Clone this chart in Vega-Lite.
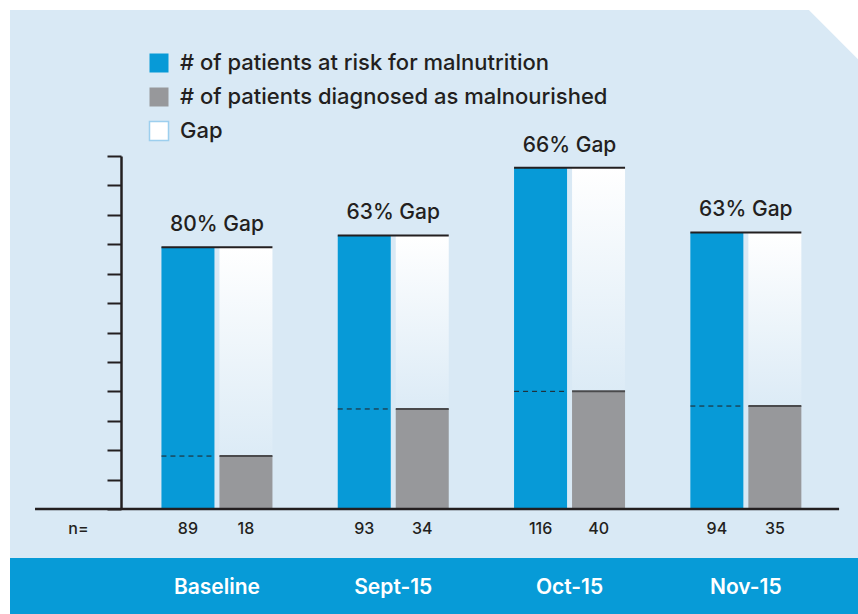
{
  "$schema": "https://vega.github.io/schema/vega-lite/v6.json",
  "width": 848,
  "height": 548,
  "padding": {"left": 10, "top": 10, "right": 0, "bottom": 0},
  "background": "#ffffff",
  "config": {
    "view": {"fill": "#d9e9f5", "stroke": null},
    "axis": {"grid": false},
    "font": "Inter"
  },
  "datasets": {
    "bars": [
      {"month": "Baseline", "series": "# of patients at risk for malnutrition", "n": 89},
      {"month": "Baseline", "series": "# of patients diagnosed as malnourished", "n": 18},
      {"month": "Sept-15", "series": "# of patients at risk for malnutrition", "n": 93},
      {"month": "Sept-15", "series": "# of patients diagnosed as malnourished", "n": 34},
      {"month": "Oct-15", "series": "# of patients at risk for malnutrition", "n": 116},
      {"month": "Oct-15", "series": "# of patients diagnosed as malnourished", "n": 40},
      {"month": "Nov-15", "series": "# of patients at risk for malnutrition", "n": 94},
      {"month": "Nov-15", "series": "# of patients diagnosed as malnourished", "n": 35}
    ],
    "months": [
      {"month": "Baseline", "risk": 89, "diagnosed": 18, "gap": "80% Gap"},
      {"month": "Sept-15", "risk": 93, "diagnosed": 34, "gap": "63% Gap"},
      {"month": "Oct-15", "risk": 116, "diagnosed": 40, "gap": "66% Gap"},
      {"month": "Nov-15", "risk": 94, "diagnosed": 35, "gap": "63% Gap"}
    ]
  },
  "layer": [
    {
      "data": {"name": "months"},
      "transform": [{"filter": "datum.month === 'Baseline'"}],
      "mark": {"type": "rect", "color": "#079bd7"},
      "encoding": {
        "y": {"datum": -16.66, "type": "quantitative"},
        "y2": {"datum": -35.7}
      }
    },
    {
      "data": {"name": "bars"},
      "mark": {"type": "bar"},
      "encoding": {
        "x": {
          "field": "month", "type": "nominal", "sort": null,
          "scale": {"type": "band", "domain": ["Baseline", "Sept-15", "Oct-15", "Nov-15"], "range": [118.8, 824], "paddingInner": 0.3704, "paddingOuter": 0.1852},
          "axis": {"orient": "bottom", "domain": false, "ticks": false, "tickSize": 0, "labelPadding": 29, "labelBaseline": "middle", "labelAngle": 0, "labelColor": "#ffffff", "labelFontSize": 21, "labelFont": "Inter", "labelFontWeight": 600, "title": null, "zindex": 1}
        },
        "xOffset": {
          "field": "series", "type": "nominal",
          "scale": {"domain": ["# of patients at risk for malnutrition", "# of patients diagnosed as malnourished"], "paddingInner": 0.0862, "paddingOuter": 0}
        },
        "y": {
          "field": "n", "type": "quantitative",
          "scale": {"domain": [0, 120], "range": [499, 146], "nice": false},
          "axis": {"offset": -111, "values": [0, 10, 20, 30, 40, 50, 60, 70, 80, 90, 100, 110, 120], "labels": false, "tickSize": 14, "tickWidth": 2, "tickColor": "#231f20", "domainColor": "#231f20", "domainWidth": 2.5, "title": "n=", "titleAngle": 0, "titleX": -43, "titleY": 518, "titleAlign": "center", "titleBaseline": "middle", "titleFont": "Inter", "titleFontSize": 16, "titleFontWeight": 500, "titleColor": "#231f20", "zindex": 1}
        },
        "color": {
          "field": "series", "type": "nominal",
          "scale": {"domain": ["# of patients at risk for malnutrition", "# of patients diagnosed as malnourished", "Gap"], "range": ["#079ad7", "#97989b", "#ffffff"]},
          "legend": {
            "orient": "none", "legendX": 138, "legendY": 42, "title": null, "direction": "vertical",
            "symbolType": "square", "symbolSize": 361, "symbolStrokeWidth": 1.5,
            "labelFont": "Inter", "labelFontSize": 22, "labelFontWeight": 500, "labelColor": "#231f20",
            "labelOffset": 10, "rowPadding": 8, "labelLimit": 600,
            "encode": {"symbols": {"update": {"stroke": {"signal": "datum.label === 'Gap' ? '#9dcfee' : 'transparent'"}}}}
          }
        }
      }
    },
    {
      "data": {"name": "months"},
      "mark": {"type": "bar", "color": {"gradient": "linear", "x1": 0, "y1": 0, "x2": 0, "y2": 1, "stops": [{"offset": 0, "color": "#ffffff"}, {"offset": 1, "color": "#dcebf6"}]}},
      "encoding": {
        "x": {"field": "month", "type": "nominal"},
        "xOffset": {"datum": "# of patients diagnosed as malnourished"},
        "y": {"field": "diagnosed", "type": "quantitative"},
        "y2": {"field": "risk"}
      }
    },
    {
      "data": {"name": "months"},
      "mark": {"type": "rule", "color": "#231f20", "strokeWidth": 1, "strokeDash": [5, 4]},
      "encoding": {
        "x": {"field": "month", "type": "nominal", "bandPosition": 0},
        "x2": {"field": "month", "bandPosition": 0.4775},
        "y": {"field": "diagnosed", "type": "quantitative"}
      }
    },
    {
      "data": {"name": "months"},
      "mark": {"type": "rule", "color": "#4a4a4c", "strokeWidth": 2},
      "encoding": {
        "x": {"field": "month", "type": "nominal", "bandPosition": 0.5225},
        "x2": {"field": "month", "bandPosition": 1},
        "y": {"field": "diagnosed", "type": "quantitative"}
      }
    },
    {
      "data": {"name": "months"},
      "mark": {"type": "rule", "color": "#231f20", "strokeWidth": 2},
      "encoding": {
        "x": {"field": "month", "type": "nominal", "bandPosition": 0},
        "x2": {"field": "month", "bandPosition": 1},
        "y": {"field": "risk", "type": "quantitative"}
      }
    },
    {
      "data": {"name": "months"},
      "transform": [{"filter": "datum.month === 'Baseline'"}],
      "mark": {"type": "rule", "color": "#231f20", "strokeWidth": 2.5},
      "encoding": {
        "x": {"datum": "Baseline", "type": "nominal", "bandPosition": -1.139},
        "x2": {"datum": "Nov-15", "bandPosition": 1.34},
        "y": {"datum": 0, "type": "quantitative"}
      }
    },
    {
      "data": {"name": "months"},
      "mark": {"type": "text", "font": "Inter", "fontSize": 21, "fontWeight": 500, "color": "#231f20", "baseline": "alphabetic", "dy": -16},
      "encoding": {
        "x": {"field": "month", "type": "nominal"},
        "y": {"field": "risk", "type": "quantitative"},
        "text": {"field": "gap"}
      }
    },
    {
      "data": {"name": "bars"},
      "mark": {"type": "text", "font": "Inter", "fontSize": 16, "fontWeight": 500, "color": "#231f20", "baseline": "middle", "dy": 19.5},
      "encoding": {
        "x": {"field": "month", "type": "nominal"},
        "xOffset": {"field": "series", "type": "nominal"},
        "y": {"datum": 0, "type": "quantitative"},
        "text": {"field": "n"}
      }
    },
    {
      "data": {"name": "months"},
      "transform": [{"filter": "datum.month === 'Nov-15'"}],
      "mark": {"type": "point", "shape": "M63 0L112.15 0L112.15 49.15Z", "size": 4, "filled": true, "color": "#ffffff", "opacity": 1, "strokeWidth": 0},
      "encoding": {
        "x": {"datum": "Nov-15", "type": "nominal"},
        "y": {"datum": 169.63, "type": "quantitative"}
      }
    }
  ]
}
